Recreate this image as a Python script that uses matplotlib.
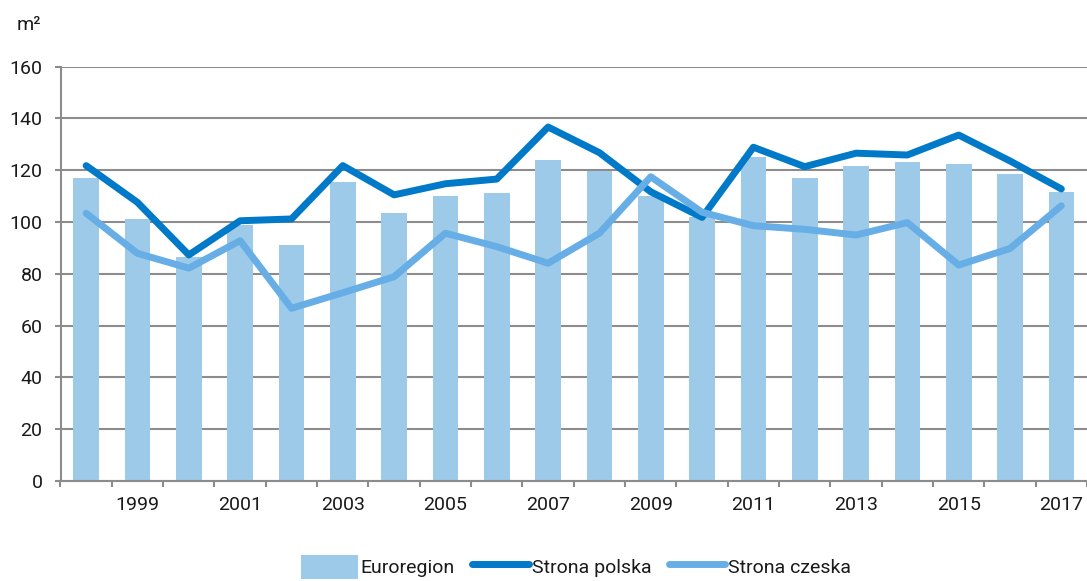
import numpy as np
import matplotlib
matplotlib.use('Agg')
import matplotlib.pyplot as plt

plt.rcParams['font.family'] = ['Roboto', 'DejaVu Sans']

years = list(range(1998, 2018))
euroregion = [117.1, 101.1, 86.5, 98.8, 91.0, 115.6, 103.4, 110.2, 111.1, 124.0,
              119.7, 110.0, 102.0, 125.0, 117.1, 121.8, 123.3, 122.4, 118.7, 111.7]
strona_polska = [121.8, 107.6, 87.3, 100.5, 101.2, 121.8, 110.5, 114.8, 116.6, 136.7,
                 126.8, 111.7, 101.8, 128.9, 121.4, 126.6, 125.9, 133.6, 123.6, 112.8]
strona_czeska = [103.4, 87.9, 82.2, 92.8, 66.7, 72.7, 78.9, 95.7, 90.5, 84.1,
                 95.7, 117.5, 103.8, 98.6, 97.2, 95.0, 99.8, 83.4, 89.8, 106.3]
yticks = [0, 20, 40, 60, 80, 100, 120, 140, 160]

bar_col = '#9DCAE9'
dark_col = '#0079C8'
light_col = '#67AEE6'
grid_col = '#8C8C8C'

fig = plt.figure(figsize=(10.87, 5.81), dpi=100)
ax = fig.add_axes([60.5/1087, 1 - 481/581, 1 - 60.5/1087, (481 - 66.7)/581])

x = np.arange(len(years))
b = ax.bar(x, euroregion, width=0.5, color=bar_col, zorder=2, label='Euroregion')
l1, = ax.plot(x, strona_polska, color=dark_col, lw=5, solid_capstyle='round', zorder=3, label='Strona polska')
l2, = ax.plot(x, strona_czeska, color=light_col, lw=5, solid_capstyle='round', zorder=3, label='Strona czeska')

ax.set_xlim(-0.5, len(years) - 0.5)
ax.set_ylim(0, 160)
ax.set_yticks(yticks)
ax.yaxis.grid(True, color=grid_col, lw=1.5, zorder=1)
ax.set_axisbelow(True)

# labels only on odd years, tick marks on category boundaries
lab_idx = [i for i, y in enumerate(years) if y % 2 == 1]
ax.set_xticks(lab_idx)
ax.set_xticklabels([str(years[i]) for i in lab_idx])
ax.set_xticks(np.arange(-0.5, len(years)), minor=True)
ax.tick_params(axis='x', which='major', length=0, pad=11, labelsize=14, labelcolor='#1a1a1a')
ax.tick_params(axis='x', which='minor', length=4, width=1.5, color=grid_col)
ax.tick_params(axis='y', length=4, width=1.5, color=grid_col, pad=9, labelsize=14, labelcolor='#1a1a1a')

for s in ['top', 'right']:
    ax.spines[s].set_visible(False)
for s in ['left', 'bottom']:
    ax.spines[s].set_color(grid_col)
    ax.spines[s].set_linewidth(1.5)

fig.text(17/1087, 1 - 30/581, 'm²', fontsize=14, color='#1a1a1a', va='baseline', ha='left')

fig.legend([b, l1, l2], ['Euroregion', 'Strona polska', 'Strona czeska'],
           loc='center', bbox_to_anchor=(0.53, 1 - 567/581), ncol=3, frameon=False,
           fontsize=14, handlelength=2.9, handleheight=1.45, handletextpad=0.15,
           columnspacing=0.9, borderpad=0, labelcolor='#1a1a1a')

fig.savefig('out.png', dpi=100)
